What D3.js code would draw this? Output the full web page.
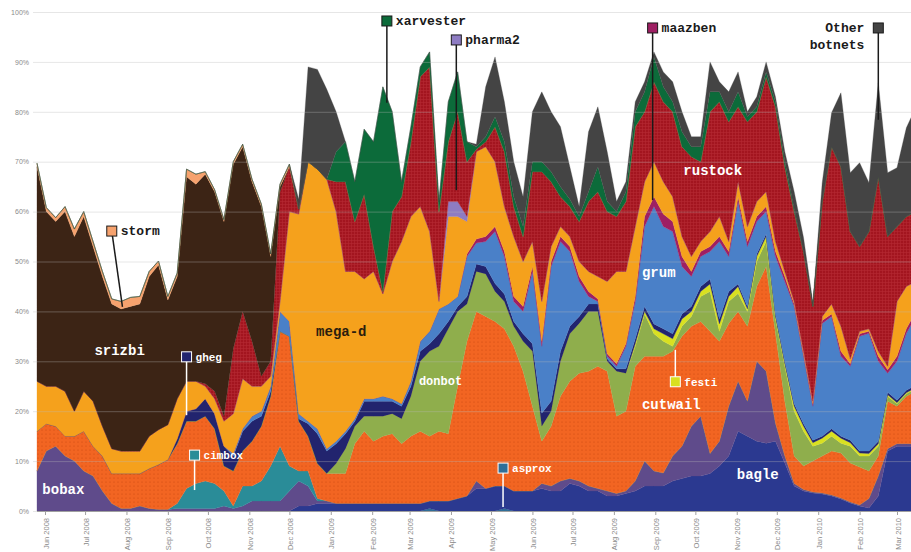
<!DOCTYPE html>
<html>
<head>
<meta charset="utf-8">
<script src="https://cdnjs.cloudflare.com/ajax/libs/d3/7.8.5/d3.min.js"></script>
<style>
    body { margin: 0; background: #fff; }
    svg { display: block; }
</style>
</head>
<body>
<div id="chart"></div>
<script>
// weekly samples of share of spam (%), first sample 26 May 2008
const firstWeek = new Date(2008, 4, 26);
const weekCount = 95;

const botnets = ["asprox", "bagle", "bobax", "cimbox", "cutwail", "donbot", "festi", "gheg",
    "grum", "maazben", "megad", "pharma2", "rustock", "srizbi", "storm", "xarvester", "other"];

const asprox = [0,0,0,0,0,0,0,0,0,0, 0,0,0,0,0,0,0,0,0,0, 0,0,0,0,0,0,0,0,0,0, 0,0,0,0,0,0,0,0,0,0,
    0,0,0.5,0,0,0,0,0,0,0, 0.5,0,0,0,0,0,0,0,0,0, 0,0,0,0,0,0,0,0,0,0, 0,0,0,0,0,0,0,0,0,0,
    0,0,0,0,0,0,0,0,0,0, 0,0,0,0,0];
const bagle = [0,0,0,0,0,0,0,0,0,0, 0,0,0,0,0,0,0,0,0,0, 0,0,0,0,0,0,0,0,1,1,
    1.5,1.5,1.5,1.5,1.5,1.5,1.5,1.5,1.5,1.5, 1.5,1.5,1.5,2,2,2.5,3,4.5,4.5,5,
    4.5,4,4,4,4.5,4,4,5.5,5,4, 4,3,3,3.5,4,5,5,5,6,6.5, 7,7,7.5,9,11,16,15,14,13.6,14,
    9.6,5,4,3.6,3.4,3,2.4,1.6,1,0.6, 3,12,13,13,13];
const bobax = [8,12,13,11,10,8,7,4,1.5,0.5, 0.5,1,0.5,0.3,0.3,0.5,0.5,0.5,0.5,0.5,
    1,0.5,1,2,2,2,2,4,5,4, 0.5,0.5,0,0,0,0,0,0,0,0, 0,0,0,0,0,0,0,1.5,0,0,
    0,0,0,0,1,1,2,1,1,1, 0.5,1,0.5,0.5,2,5,3,2.6,5,6.5, 10,12,4,5,10,10,7,16,14.4,3.6,
    1.4,0.5,0.3,0.2,0.2,0.2,0.2,0.2,0.2,1.9, 4,0.5,0.5,0.5,0.5];
const cimbox = [0,0,0,0,0,0,0,0,0,0, 0,0,0,0,0,1,4,5,5.5,5, 3,0.5,4,3,4,7,11,5,2,3,
    0.5,0,0,0,0,0,0,0,0,0, 0,0,0,0,0,0,0,0,0,0, 0,0,0,0,0,0,0,0,0,0, 0,0,0,0,0,0,0,0,0,0,
    0,0,0,0,0,0,0,0,0,0, 0,0,0,0,0,0,0,0,0,0, 0,0,0,0,0];
const cutwail = [8,5.5,4,4,5,8,6,7,6,7, 7,6.5,8,9,10,12,13.5,12.5,13,11, 5,7,7,9,11,14,23,26,10,7,
    7,5.5,6,6,12,14.5,12.5,13.5,14,12, 13.5,14.5,13,14,13.5,22.5,31,34,34.5,33,
    31.5,29,24,17,8.5,12,17,19.5,21.6,23, 24.5,24,15.5,16,23,21,23,23.4,21,22,
    20,19,24.5,20,16.6,14,15,15,21,18, 11,5.5,4.7,6.2,7.4,8.8,9,7.8,7.6,5.5, 4,9.5,7.5,9.5,10.5];
const donbot = [0,0,0,0,0,0,0,0,0,0, 0,0,0,0,0,0,0,0,0,0, 0,0,0,0,0,0,0,0,0,0,
    0,0,2,5,3.5,3,5,4,4,5, 8,14,17,17,21,15,7.5,8,8.5,6, 5.5,4,6,11,3,3,7,9.5,10,12,
    11,2,9,7.6,4,8.5,4.5,3,1,2, 2,5,8,2,4.4,3.6,3,5,5,2.9, 7,9,7,3,2.6,3,2,3.4,2.2,3,
    2,1,0.5,0.5,0.5];
const festi = [0,0,0,0,0,0,0,0,0,0, 0,0,0,0,0,0,0,0,0,0, 0,0,0,0,0,0,0,0,0,0, 0,0,0,0,0,0,0,0,0,0,
    0,0,0,0,0,0,0,0,0,0, 0,0,0,0,0,0,0,0,0,0, 0,0,0,0,0.5,0.5,1,1.5,1.5,1.5,
    1,1,1.5,1.5,1,1.4,0.5,1,1,0.5, 0.5,1,1,0.7,1,1,1,0.7,0.6,0.5, 0.5,0.3,0.2,0.2,0.2];
const gheg = [0,0,0,0,0,0,0,0,0,0, 0,0,0,0,0,1,2,2.5,3.5,3, 4,3,4,4,2,1,0,0,0.5,2.5,
    6,4.5,4,3,1,3,3,3,2.5,2.5, 2,2,1.5,2.5,1.5,1,1.5,1.5,1.5,1.6, 1.5,1,1.5,1.5,2.6,2,2,1.5,1.4,1.5,
    1.5,0.5,0.5,0.9,1,1,1,1,1,1, 1,1,1,1,1,0.5,0.5,0.5,0.5,0.5, 0.5,0.5,0.5,0.5,0.4,0.5,0.4,0.5,0.4,0.5,
    0.5,0.5,0.5,0.5,0.5];
const grum = [0,0,0,0,0,0,0,0,0,0, 0,0,0,0,0,0,0,0,0,0, 0,0.5,0.5,1,1,1,4,3,1,0.5,
    1,0.5,0.5,0.5,0.5,0.5,0.5,1,0.5,0.5, 1,2,2.5,5,3.5,2,8,4.2,5,10.4, 7.5,4,4.5,14.5,13.4,27,22,15,7,1.5,
    0.5,0.5,0.5,4.5,7.5,16,23.5,20.5,20.5,9.5, 6,6,5.5,15.5,7,16.5,12,6.5,4.5,11.5,
    16,19.5,13.5,6.8,22.6,22.5,16,14.8,23,23.6, 16,3.8,7.8,11.4,13.8];
const maazben = [0,0,0,0,0,0,0,0,0,0, 0,0,0,0,0,0,0,0,0,0, 0,0,0,0,0,0,0,0,0,0, 0,0,0,0,0,0,0,0,0,0,
    0,0,0,0,0,0,0.5,0.8,1,1, 1,1,1,1,1,1,1,1,1,1, 0.5,0.5,0.5,0.5,1,2,2,2.5,2,2,
    1,1,1,1,1,1,1,1,1,1, 1,0.5,0.5,0.5,0.6,0.5,1,0.5,0.5,0.4, 1,0.7,1,0.9,1];
const megad = [10,7.5,8,9,5,8,9,6,5,4.5, 4.5,4.5,6.5,7,7,8,6,5.5,2.5,3, 5,8,10,6,5,2,2,22,40,52,
    52,54,46,32,29.5,24,25.5,20.5,27.5,32.5, 33,27,20,1.5,17.5,16,6.5,17.5,18,13,
    9,12,9,5,8,3,2,2,3,4, 4.5,14.5,18.5,14.5,14,7,7,6.5,5,4, 3,2,3,4,2,3,3,3,3,2,
    1,0.5,0.5,0.5,0.8,2,5,1,0.5,0.5, 1,0.7,11,8.5,6];
const pharma2 = [0,0,0,0,0,0,0,0,0,0, 0,0,0,0,0,0,0,0,0,0, 0,0,0,0,0,0,0,0,0,0, 0,0,0,0,0,0,0,0,0,0,
    0,0,0,0,3,3,1,0,0,0, 0,0,0,0,0,0,0,0,0,0, 0,0,0,0,0,0,0,0,0,0, 0,0,0,0,0,0,0,0,0,0,
    0,0,0,0,0,0,0,0,0,0, 0,0,0,0,0];
const rustock = [0,0,0,0,0,0,0,0,0,0, 0,0,0,0,0,0,0,0,0.5,1.5, 1,13,13.5,9,2,3,22,9,1,0,
    0,0,6,18,10,17,5,0.5,10,9, 15,26,33,18,12,18,11,0.5,1,7, 11,6,5,14,26,13,6,6,8,14,
    17,14,11,14,20,14,16,16,17,18, 20,16,24,23,24,15,21,18,23,27,
    21,18,20,19,23,31.5,32,25.5,17,19.5, 35,26,15,14,14];
const srizbi = [43,35,33,36,35,35,31,30,29,28.5, 29,29.5,32,33,25,24.5,41,39.5,42,40,
    39,37,33,32,34,21,1,0,0,0, 0,0,0,0,0,0,0,0,0,0, 0,0,0,0,0,0,0,0,0,0, 0,0,0,0,0,0,0,0,0,0,
    0,0,0,0,0,0,0,0,0,0, 0,0,0,0,0,0,0,0,0,0, 0,0,0,0,0,0,0,0,0,0, 0,0,0,0,0];
const storm = [0.7,0.8,0.8,1,1.5,1,1,1,1,1.5, 1.8,1.5,1,0.8,0.7,0.7,1.5,2,0.5,0.4,
    0.4,0.5,0.5,0.5,0.5,0.5,0.5,0.5,0,0, 0,0,0,0,0,0,0,0,0,0, 0,0,0,0,0,0,0,0,0,0,
    0,0,0,0,0,0,0,0,0,0, 0,0,0,0,0,0,0,0,0,0, 0,0,0,0,0,0,0,0,0,0, 0,0,0,0,0,0,0,0,0,0, 0,0,0,0,0];
const xarvester = [0,0,0,0,0,0,0,0,0,0, 0,0,0,0,0,0,0,0,0,0, 0,0,0,0,0,0,0,0,0,0,
    0,0,6,8,8,13,21,41,20,3, 3,2,3,2,8,8,4,0.5,1,2, 2,2,2,2,2,2,2,1.5,1,2,
    5,2,1,2,3,4,5,3,2,3, 2,3,4,2,2,3,1,1,1,1, 1,0.5,0,0,0,0,0,0,0,0, 0,0,0,0,0];
const other = [0,0,0,0,0,0,0,0,0,0, 0,0,0,0,0,0,0,0,0,0, 0,0,0,0,0,0,0,0,2,19,
    20,18,8,0,0,0,0,0,0,0, 0,0,0,0,0,0,0,0.5,10,12, 8,7,6,10,14,12,12,6.5,2,12,
    12,10,2,2,2,2,1,3,4,4, 2,2,6,2,4,4,1,2,2,1, 2,3.5,2.8,0.8,3.8,6.8,14.8,11.8,16.8,9.8,
    18.8,12.8,11.8,17.8,20.8];

const colors = ["#2f6f98", "#2b3990", "#5f4b8b", "#2a8c98", "#f26522", "#8fae4c", "#d9e021", "#22246e",
    "#4a80c8", "#9e1f63", "#f5a11c", "#8e7cc3", "#a3151f", "#3c2415", "#f6a26e", "#0c6b3a", "#444444"];

const yTicks = [0, 10, 20, 30, 40, 50, 60, 70, 80, 90, 100];

// name labels drawn straight on the areas
const areaLabels = [
    { text: "srizbi", date: "2008-07-08", pct: 31.3, fill: "#fff" },
    { text: "bobax", date: "2008-05-30", pct: 3.4, fill: "#fff" },
    { text: "mega-d", date: "2008-12-21", pct: 35.1, fill: "#2b1d0e" },
    { text: "donbot", date: "2009-03-08", pct: 25.3, fill: "#fff", size: 12 },
    { text: "cutwail", date: "2009-08-22", pct: 20.4, fill: "#fff" },
    { text: "bagle", date: "2009-11-01", pct: 6.4, fill: "#fff" },
    { text: "grum", date: "2009-08-22", pct: 46.9, fill: "#fff" },
    { text: "rustock", date: "2009-09-22", pct: 67.3, fill: "#fff" }
];

// boxed labels with a pointer line
const callouts = [
    { key: "storm", text: "storm", date: "2008-07-21", pct: 56.1, tipDate: "2008-07-29", tipPct: 40.9, dark: true },
    { key: "gheg", text: "gheg", date: "2008-09-15", pct: 30.9, tipPct: 19.2, dark: false, size: 11 },
    { key: "cimbox", text: "cimbox", date: "2008-09-21", pct: 11.2, tipPct: 4.2, dark: false, size: 11 },
    { key: "xarvester", text: "xarvester", date: "2009-02-12", pct: 98.2, tipPct: 81.8, dark: true },
    { key: "pharma2", text: "pharma2", date: "2009-04-05", pct: 94.4, tipPct: 64.3, dark: true },
    { key: "asprox", text: "asprox", date: "2009-05-10", pct: 8.6, tipPct: 0.8, dark: false, size: 11 },
    { key: "maazben", text: "maazben", date: "2009-08-30", pct: 96.8, tipPct: 62.3, dark: true },
    { key: "festi", text: "festi", date: "2009-09-16", pct: 25.9, tipPct: 32.3, dark: false, size: 11 },
    { key: "other", text: "Other", text2: "botnets", date: "2010-02-15", pct: 96.8, tipPct: 78.4, dark: true, left: true }
];

const width = 911;
const height = 552;
const monoFont = "'Liberation Mono', 'Courier New', monospace";
const sansFont = "'Liberation Sans', Arial, sans-serif";

const values = { asprox, bagle, bobax, cimbox, cutwail, donbot, festi, gheg, grum, maazben,
    megad, pharma2, rustock, srizbi, storm, xarvester, other };
const rows = d3.range(weekCount).map(i => {
    let row = { date: d3.timeDay.offset(firstWeek, 7 * i) };
    botnets.forEach(k => row[k] = values[k][i]);
    return row;
});

const parse = d3.timeParse("%Y-%m-%d");
const xScale = d3.scaleTime()
    .domain([new Date(2008, 5, 1), new Date(2010, 2, 1)])
    .range([45, 897]);
const yScale = d3.scaleLinear().domain([0, 100]).range([511, 12]);
const colorScale = d3.scaleOrdinal().domain(botnets).range(colors);

let svg = d3.select("#chart")
    .append("svg")
    .attr("width", width)
    .attr("height", height);

// dotted texture used by cutwail
let defs = svg.append("defs");
let dots = defs.append("pattern")
    .attr("id", "cutwail-dots")
    .attr("patternUnits", "userSpaceOnUse")
    .attr("width", 4)
    .attr("height", 4);
dots.append("rect").attr("width", 4).attr("height", 4).attr("fill", colorScale("cutwail"));
dots.append("circle").attr("cx", 2).attr("cy", 2).attr("r", 0.6).attr("fill", "#c9480f");

let grid = defs.append("pattern")
    .attr("id", "rustock-grid")
    .attr("patternUnits", "userSpaceOnUse")
    .attr("width", 3)
    .attr("height", 3);
grid.append("rect").attr("width", 3).attr("height", 3).attr("fill", colorScale("rustock"));
grid.append("path").attr("d", "M0,0.5H3M0.5,0V3").attr("stroke", "#b52a33").attr("stroke-width", 0.6);

const fillFor = k => k === "cutwail" ? "url(#cutwail-dots)"
    : k === "rustock" ? "url(#rustock-grid)" : colorScale(k);

let stack = d3.stack().keys(botnets)(rows);
let area = d3.area()
    .x(d => xScale(d.data.date))
    .y0(d => yScale(d[0]))
    .y1(d => yScale(d[1]));

// stacked areas
svg.append("g")
    .selectAll("path")
    .data(stack)
    .join("path")
    .attr("d", area)
    .attr("fill", d => fillFor(d.key))
    .attr("stroke", d => fillFor(d.key))
    .attr("stroke-width", 0.3);

// y axis with gridlines over the areas
let yAxis = svg.append("g")
    .attr("transform", "translate(33,0)")
    .call(d3.axisLeft(yScale)
        .tickValues(yTicks)
        .tickSize(-(width - 33))
        .tickPadding(4)
        .tickFormat(d => d + "%"));
yAxis.select(".domain").remove();
yAxis.selectAll(".tick line")
    .attr("stroke", "rgba(185,185,185,0.45)")
    .attr("stroke-width", 0.8);
yAxis.selectAll(".tick text")
    .attr("fill", "#8a8a8a")
    .attr("font-family", sansFont)
    .attr("font-size", "7px");

// x axis, one tick per month
let xAxis = svg.append("g")
    .attr("transform", "translate(0,511)")
    .call(d3.axisBottom(xScale)
        .ticks(d3.timeMonth.every(1))
        .tickSize(4)
        .tickSizeOuter(0)
        .tickFormat(d3.timeFormat("%b %Y")));
xAxis.select(".domain")
    .attr("stroke", "#a0a0a0")
    .attr("d", "M37,0.5H" + width);
xAxis.selectAll(".tick line").attr("stroke", "#a0a0a0");
xAxis.selectAll(".tick text")
    .attr("fill", "#8a8a8a")
    .attr("font-family", sansFont)
    .attr("font-size", "7.5px")
    .attr("text-anchor", "end")
    .attr("transform", "translate(3,7) rotate(-90)")
    .attr("x", 0)
    .attr("y", 0)
    .attr("dy", "0");

// plain labels
svg.append("g")
    .selectAll("text")
    .data(areaLabels)
    .join("text")
    .attr("x", d => xScale(parse(d.date)))
    .attr("y", d => yScale(d.pct))
    .text(d => d.text)
    .attr("font-family", monoFont)
    .attr("font-weight", "bold")
    .attr("font-size", d => (d.size || 14) + "px")
    .attr("fill", d => d.fill);

// callouts: pointer line, colour box and name
let call = svg.append("g")
    .selectAll("g")
    .data(callouts)
    .join("g");

call.append("line")
    .attr("x1", d => xScale(parse(d.date)))
    .attr("y1", d => yScale(d.pct))
    .attr("x2", d => xScale(parse(d.tipDate || d.date)))
    .attr("y2", d => yScale(d.tipPct))
    .attr("stroke", d => d.dark ? "#1a1a1a" : "#fff")
    .attr("stroke-width", 1.5);

call.append("rect")
    .attr("x", d => xScale(parse(d.date)) - 5)
    .attr("y", d => yScale(d.pct) - 5)
    .attr("width", 10)
    .attr("height", 10)
    .attr("fill", d => colorScale(d.key))
    .attr("stroke", d => d.dark ? "#1a1a1a" : "#fff")
    .attr("stroke-width", 1);

call.append("text")
    .attr("x", d => xScale(parse(d.date)) + (d.left ? -14 : 9))
    .attr("y", d => yScale(d.pct) + 4)
    .attr("text-anchor", d => d.left ? "end" : "start")
    .text(d => d.text)
    .attr("font-family", monoFont)
    .attr("font-weight", "bold")
    .attr("font-size", d => (d.size || 13) + "px")
    .attr("fill", d => d.dark ? "#1a1a1a" : "#fff");

call.filter(d => d.text2)
    .append("text")
    .attr("x", d => xScale(parse(d.date)) - 14)
    .attr("y", d => yScale(d.pct) + 21)
    .attr("text-anchor", "end")
    .text(d => d.text2)
    .attr("font-family", monoFont)
    .attr("font-weight", "bold")
    .attr("font-size", "13px")
    .attr("fill", "#1a1a1a");
</script>
</body>
</html>
